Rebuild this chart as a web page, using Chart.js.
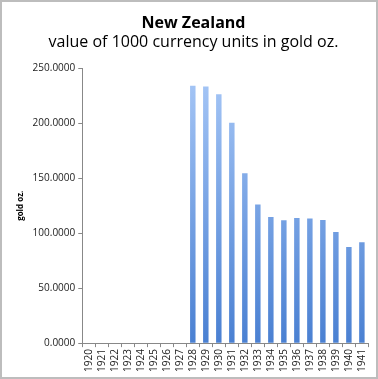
<!DOCTYPE html>
<html lang="en">
<head>
  <meta charset="UTF-8" />
  <title>New Zealand gold value</title>
  <script src="https://cdn.jsdelivr.net/npm/chart.js"></script>
  <style>
    html, body { margin: 0; padding: 0; background: #fff; }
    #wrap {
      width: 378px; height: 379px; box-sizing: border-box;
      border: 2px solid #bdbdbd; position: relative;
    }
    canvas { display: block; }
  </style>
</head>
<body>
  <div id="wrap"><canvas id="goldChart" width="374" height="375"></canvas></div>

  <script>
    const years = ['1920','1921','1922','1923','1924','1925','1926','1927','1928','1929','1930',
                   '1931','1932','1933','1934','1935','1936','1937','1938','1939','1940','1941'];
    const goldValues = [null, null, null, null, null, null, null, null,
                        234.3, 233.6, 226.4, 200.6, 154.5, 126.1, 114.8, 111.8,
                        113.9, 113.4, 112.1, 101.2, 87.5, 91.8];
    const yTicks = [0, 50, 100, 150, 200, 250];

    const ctx = document.getElementById('goldChart').getContext('2d');

    // vertical gradient like the spreadsheet bars
    function barFill(context) {
      const area = context.chart.chartArea;
      if (!area) return '#6b9be0';
      const g = context.chart.ctx.createLinearGradient(0, area.top, 0, area.bottom);
      g.addColorStop(0, '#a8c8f7');
      g.addColorStop(1, '#4a80d2');
      return g;
    }

    const font = "'Open Sans', 'Liberation Sans', sans-serif";

    new Chart(ctx, {
      type: 'bar',
      data: {
        labels: years,
        datasets: [{
          label: 'gold oz.',
          data: goldValues,
          backgroundColor: barFill,
          borderWidth: 0,
          barPercentage: 0.42,
          categoryPercentage: 1.0
        }]
      },
      options: {
        responsive: false,
        animation: false,
        layout: { padding: { top: 0, right: 5, bottom: 3, left: 14 } },
        plugins: {
          legend: { display: false },
          tooltip: { enabled: false },
          title: {
            display: true,
            text: 'New Zealand',
            color: '#000',
            font: { family: font, size: 16, weight: 'bold' },
            padding: { top: 12, bottom: 0 }
          },
          subtitle: {
            display: true,
            text: 'value of 1000 currency units in gold oz.',
            color: '#000',
            font: { family: font, size: 16 },
            padding: { top: 0, bottom: 16 }
          }
        },
        scales: {
          x: {
            grid: { display: true, drawOnChartArea: false, color: '#888', tickLength: 4 },
            border: { color: '#888' },
            ticks: {
              color: '#222', minRotation: 90, maxRotation: 90, autoSkip: false,
              padding: 2, font: { family: font, size: 10 }
            }
          },
          y: {
            min: 0, max: 250,
            afterBuildTicks: axis => { axis.ticks = yTicks.map(v => ({ value: v })); },
            grid: { display: true, drawOnChartArea: false, color: '#888', tickLength: 4 },
            border: { color: '#888' },
            title: {
              display: true, text: 'gold oz.', color: '#000',
              font: { family: font, size: 8, weight: 'bold' }, padding: { top: 0, bottom: 4 }
            },
            ticks: {
              color: '#222', padding: 3,
              font: { family: font, size: 10 },
              callback: v => Number(v).toFixed(4)
            }
          }
        }
      }
    });
  </script>
</body>
</html>
